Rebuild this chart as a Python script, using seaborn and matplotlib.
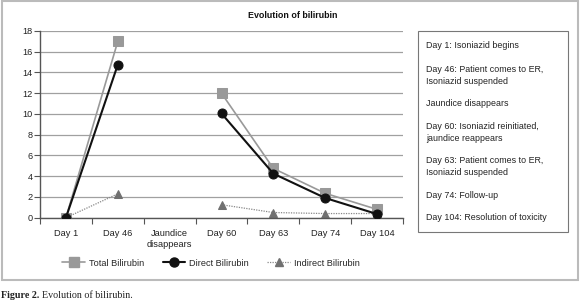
import matplotlib
matplotlib.use("Agg")
import matplotlib.pyplot as plt
import seaborn as sns
import numpy as np
import pandas as pd
from matplotlib.patches import Rectangle
from matplotlib.lines import Line2D

categories = ["Day 1", "Day 46", "Jaundice\ndisappears", "Day 60", "Day 63", "Day 74", "Day 104"]
total_bilirubin = [0.0, 17.0, np.nan, 12.0, 4.75, 2.35, 0.8]
direct_bilirubin = [0.0, 14.75, np.nan, 10.05, 4.25, 1.9, 0.35]
indirect_bilirubin = [0.0, 2.3, np.nan, 1.25, 0.5, 0.4, 0.4]
yticks = [0, 2, 4, 6, 8, 10, 12, 14, 16, 18]
notes = ["Day 1: Isoniazid begins",
         "Day 46: Patient comes to ER,\nIsoniazid suspended",
         "Jaundice disappears",
         "Day 60: Isoniazid reinitiated,\njaundice reappears",
         "Day 63: Patient comes to ER,\nIsoniazid suspended",
         "Day 74: Follow-up",
         "Day 104: Resolution of toxicity"]

sns.set_style("white")
plt.rcParams['font.family'] = ['Liberation Sans', 'DejaVu Sans']

fig = plt.figure(figsize=(5.8, 3.06), dpi=100)
W, H = 580, 306
ax = fig.add_axes([40 / W, 1 - 217.7 / H, 363 / W, 186.7 / H])

def seg_frame(vals):
    pos = np.arange(len(vals))
    seg = np.cumsum(pd.isna(vals))
    df = pd.DataFrame({"pos": pos, "val": vals, "seg": seg})
    return df.dropna()

styles = [
    ("Total Bilirubin", total_bilirubin, dict(color="#999999", marker="s", markersize=6.5, lw=1.2, ls="-", mfc="#999999", mec="#999999")),
    ("Direct Bilirubin", direct_bilirubin, dict(color="#111111", marker="o", markersize=6.5, lw=1.5, ls="-", mfc="#111111", mec="#111111")),
    ("Indirect Bilirubin", indirect_bilirubin, dict(color="#888888", marker="^", markersize=6, lw=0.9, ls=(0, (1, 1)), mfc="#707070", mec="#707070")),
]

order_z = {"Total Bilirubin": 3, "Direct Bilirubin": 4, "Indirect Bilirubin": 2}
handles = []
for name, vals, st in styles:
    df = seg_frame(vals)
    sns.lineplot(data=df, x="pos", y="val", units="seg", estimator=None, ax=ax,
                 color=st["color"], marker=st["marker"], markersize=st["markersize"],
                 linewidth=st["lw"], linestyle=st["ls"], markerfacecolor=st["mfc"],
                 markeredgecolor=st["mec"], zorder=order_z[name], legend=False)
    handles.append(Line2D([0], [0], color=st["color"], marker=st["marker"], markersize=st["markersize"],
                          lw=st["lw"], ls=st["ls"], mfc=st["mfc"], mec=st["mec"]))

ax.set_xlim(-0.5, len(categories) - 0.5)
ax.set_ylim(0, 18)
ax.set_yticks(yticks)
ax.set_yticklabels([str(v) for v in yticks], fontsize=6.6, color="#222222")
ax.yaxis.grid(True, color="#a0a0a0", lw=0.9)
ax.set_axisbelow(True)
ax.tick_params(axis="y", which="major", length=4, width=0.8, color="#555555", pad=1.5, left=True)

ax.set_xticks(np.arange(-0.5, len(categories), 1.0))
ax.set_xticklabels([])
ax.set_xticks(np.arange(len(categories)), minor=True)
ax.set_xticklabels(categories, minor=True, fontsize=6.7, color="#222222", linespacing=1.3)
ax.tick_params(axis="x", which="major", length=4, width=0.8, color="#555555", bottom=True)
ax.tick_params(axis="x", which="minor", length=0, pad=8)
ax.set_xlabel("")
ax.set_ylabel("")
for s in ["top", "right"]:
    ax.spines[s].set_visible(False)
for s in ["left", "bottom"]:
    ax.spines[s].set_color("#555555")
    ax.spines[s].set_linewidth(1.0)

fig.text(293 / W, 1 - 15 / H, "Evolution of bilirubin", ha="center", va="center",
         fontsize=6.4, fontweight="bold", color="#111111")

fig.legend(handles, [s[0] for s in styles], loc="center", bbox_to_anchor=(211 / W, 1 - 263 / H),
           ncol=3, frameon=False, fontsize=6.6, handlelength=2.5, columnspacing=2.0, handletextpad=0.4)

# notes box
fig.patches.append(Rectangle((418 / W, 1 - 232 / H), 150 / W, 201 / H, transform=fig.transFigure,
                             fill=False, edgecolor="#777777", lw=0.8))
note_y = [46, 75.5, 103, 132.5, 166.5, 195, 218]
for t, y in zip(notes, note_y):
    fig.text(426 / W, 1 - y / H, t, ha="left", va="center", fontsize=6.4, color="#222222",
             linespacing=1.45)

# outer frame
fig.patches.append(Rectangle((2 / W, 1 - 280 / H), 576 / W, 279 / H, transform=fig.transFigure,
                             fill=False, edgecolor="#bbbbbb", lw=1.5))

fig.text(1 / W, 1 - 296 / H, "Figure 2.", ha="left", va="center", fontsize=7.2,
         fontweight="bold", family=["Liberation Serif"], color="#222222")
fig.text(42 / W, 1 - 296 / H, "Evolution of bilirubin.", ha="left", va="center", fontsize=7.2,
         family=["Liberation Serif"], color="#222222")

fig.savefig("out.png", dpi=100)
